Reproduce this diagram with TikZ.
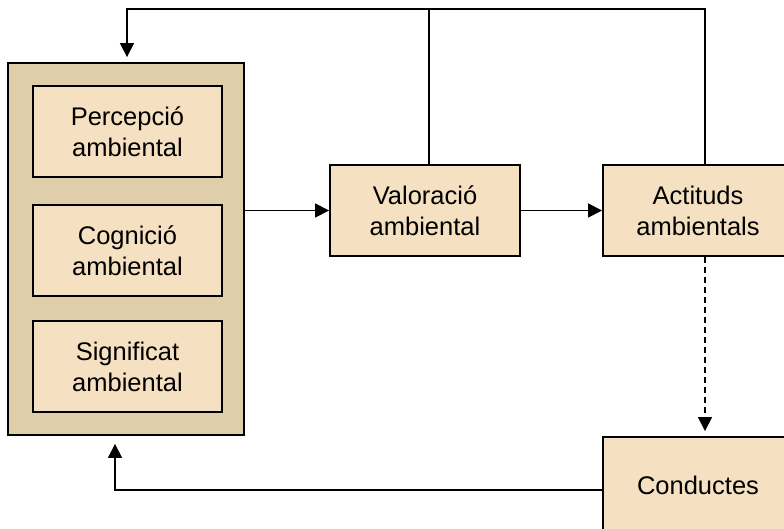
\documentclass[tikz,border=0pt]{standalone}
\usepackage{fontspec}
\setmainfont{Liberation Sans}
\usetikzlibrary{arrows.meta}

\definecolor{outerfill}{HTML}{E0CDAA}
\definecolor{boxfill}{HTML}{F5E1C1}

\begin{document}
\begin{tikzpicture}[
  x=1pt, y=1pt,
  % boxes and connectors
  box/.style={draw, line width=1.9pt, fill=boxfill, align=center,
    minimum width=189pt, minimum height=91pt, inner sep=0pt,
    font=\fontsize{25.5}{31}\selectfont},
  link/.style={line width=1.7pt, -{Triangle[width=14pt,length=14pt]}},
  plain/.style={line width=1.7pt}
  ]
  \useasboundingbox (0,0) rectangle (784,528);

  \node[draw, line width=1.9pt, fill=outerfill, minimum width=236pt,
    minimum height=372pt] (entorn) at (126,279) {};

  \node[box] (percepcio) at (127.5,396.5) {Percepció\\ambiental};
  \node[box] (cognicio) at (127.5,277.5) {Cognició\\ambiental};
  \node[box] (significat) at (127.5,161.5) {Significat\\ambiental};

  \node[box, minimum width=190pt] (valoracio) at (425,317.5) {Valoració\\ambiental};
  \node[box, minimum width=190pt] (actituds) at (698,317.5) {Actituds\\ambientals};
  \node[box, minimum width=190pt, minimum height=96pt] (conductes) at (698,43) {Conductes};

  \draw[link] (entorn.east |- valoracio.west) -- (valoracio.west);
  \draw[link] (valoracio) -- (actituds);

  % feedback on top
  \draw[plain] ([xshift=4pt]valoracio.north) -- ++(0,155);
  \draw[link, shorten >=5pt] ([xshift=7pt]actituds.north) |- ++(0,155)
    -| ([xshift=1pt]entorn.north);

  \draw[link, dash pattern=on 6pt off 4pt, shorten >=5pt]
    ([xshift=7pt]actituds.south) -- ([xshift=7pt]conductes.north);

  % feedback from below
  \draw[link, shorten >=8pt] ([yshift=-5pt]conductes.west) -| ([xshift=-11pt]entorn.south);

\end{tikzpicture}
\end{document}
